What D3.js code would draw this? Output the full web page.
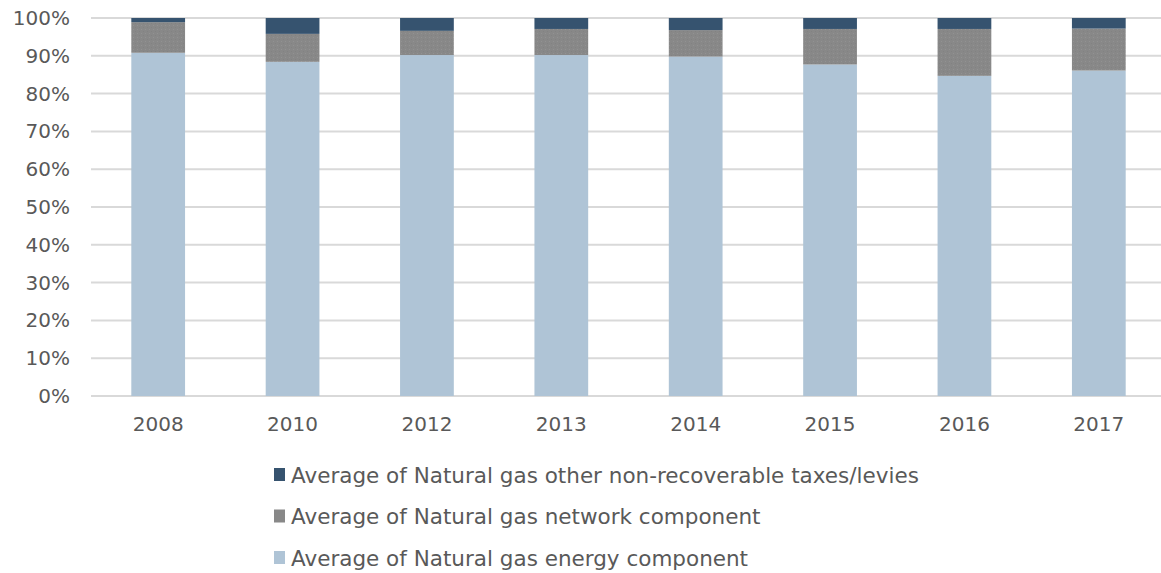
<!DOCTYPE html>
<html>
<head>
<meta charset="UTF-8">
<title>Natural gas price components</title>
<script src="https://cdnjs.cloudflare.com/ajax/libs/d3/7.8.5/d3.min.js"></script>
<style>
  body { margin: 0; background: #fff; }
  text { font-family: "DejaVu Sans", Verdana, sans-serif; }
</style>
</head>
<body>
<div id="chart"></div>
<script>
// Data (shares in %)
var years = ["2008", "2010", "2012", "2013", "2014", "2015", "2016", "2017"];
var energy  = [90.8, 88.4, 90.2, 90.2, 89.8, 87.7, 84.7, 86.1];
var network = [8.1, 7.4, 6.4, 6.9, 7.0, 9.4, 12.4, 11.1];
var taxes   = [1.1, 4.2, 3.4, 2.9, 3.2, 2.9, 2.9, 2.8];
var yTicks = [0, 10, 20, 30, 40, 50, 60, 70, 80, 90, 100];

var seriesNames = [
  "Average of Natural gas energy component",
  "Average of Natural gas network component",
  "Average of Natural gas other non-recoverable taxes/levies"
];
var seriesKeys = ["energy", "network", "taxes"];
var colors = { energy: "#afc4d6", network: "url(#dots)", taxes: "#36536f" };
var legendColors = { energy: "#afc4d6", network: "#888888", taxes: "#36536f" };

var w = 1161, h = 573;

var svg = d3.select("#chart").append("svg")
  .attr("width", w)
  .attr("height", h);

// stipple texture for the network series
var pat = svg.append("defs").append("pattern")
  .attr("id", "dots")
  .attr("width", 4).attr("height", 4)
  .attr("patternUnits", "userSpaceOnUse");
pat.append("rect").attr("width", 4).attr("height", 4).attr("fill", "#888888");
pat.append("rect").attr("x", 1).attr("y", 1).attr("width", 1).attr("height", 1).attr("fill", "#929292");
pat.append("rect").attr("x", 3).attr("y", 3).attr("width", 1).attr("height", 1).attr("fill", "#828282");

var table = years.map(function(y, i) {
  return { year: y, energy: energy[i], network: network[i], taxes: taxes[i] };
});

var x = d3.scaleBand()
  .domain(years)
  .range([91, 1166])
  .paddingInner(0.6)
  .paddingOuter(0.3);

var y = d3.scaleLinear()
  .domain([0, 100])
  .range([396, 18]);

// gridlines
svg.append("g").selectAll("line")
  .data(yTicks)
  .join("line")
  .attr("x1", 91)
  .attr("x2", 1166)
  .attr("y1", function(d) { return y(d); })
  .attr("y2", function(d) { return y(d); })
  .attr("stroke", "#d9d9d9")
  .attr("stroke-width", 2);

// y axis labels
var yAxis = d3.axisLeft(y)
  .tickValues(yTicks)
  .tickFormat(function(d) { return d + "%"; })
  .tickSize(0)
  .tickPadding(0);

svg.append("g")
  .attr("transform", "translate(70,0)")
  .call(yAxis)
  .call(function(g) { g.select(".domain").remove(); })
  .selectAll("text")
  .attr("font-size", 20)
  .attr("fill", "#595959")
  .attr("font-family", "'DejaVu Sans', Verdana, sans-serif");

// x axis labels
var xAxis = d3.axisBottom(x).tickSize(0).tickPadding(0);
svg.append("g")
  .attr("transform", "translate(0,417)")
  .call(xAxis)
  .call(function(g) { g.select(".domain").remove(); })
  .selectAll("text")
  .attr("font-size", 20)
  .attr("fill", "#595959")
  .attr("font-family", "'DejaVu Sans', Verdana, sans-serif");

// stacked bars
var stack = d3.stack().keys(seriesKeys);
var layers = stack(table);

svg.append("g").selectAll("g")
  .data(layers)
  .join("g")
  .attr("fill", function(d) { return colors[d.key]; })
  .selectAll("rect")
  .data(function(d) { return d; })
  .join("rect")
  .attr("x", function(d) { return x(d.data.year); })
  .attr("width", x.bandwidth())
  .attr("y", function(d) { return y(Math.min(d[1], 100)); })
  .attr("height", function(d) { return y(d[0]) - y(Math.min(d[1], 100)); });

// legend (top to bottom: taxes, network, energy)
var legendOrder = [2, 1, 0];
var legend = svg.append("g").selectAll("g")
  .data(legendOrder)
  .join("g")
  .attr("transform", function(d, i) { return "translate(274," + (475 + i * 41.5) + ")"; });

legend.append("rect")
  .attr("x", 0)
  .attr("y", -7)
  .attr("width", 11)
  .attr("height", 13)
  .attr("fill", function(d) { return legendColors[seriesKeys[d]]; });

legend.append("text")
  .attr("x", 17)
  .attr("y", 0)
  .attr("dy", "0.35em")
  .attr("font-size", 21.5)
  .attr("fill", "#595959")
  .text(function(d) { return seriesNames[d]; });
</script>
</body>
</html>
